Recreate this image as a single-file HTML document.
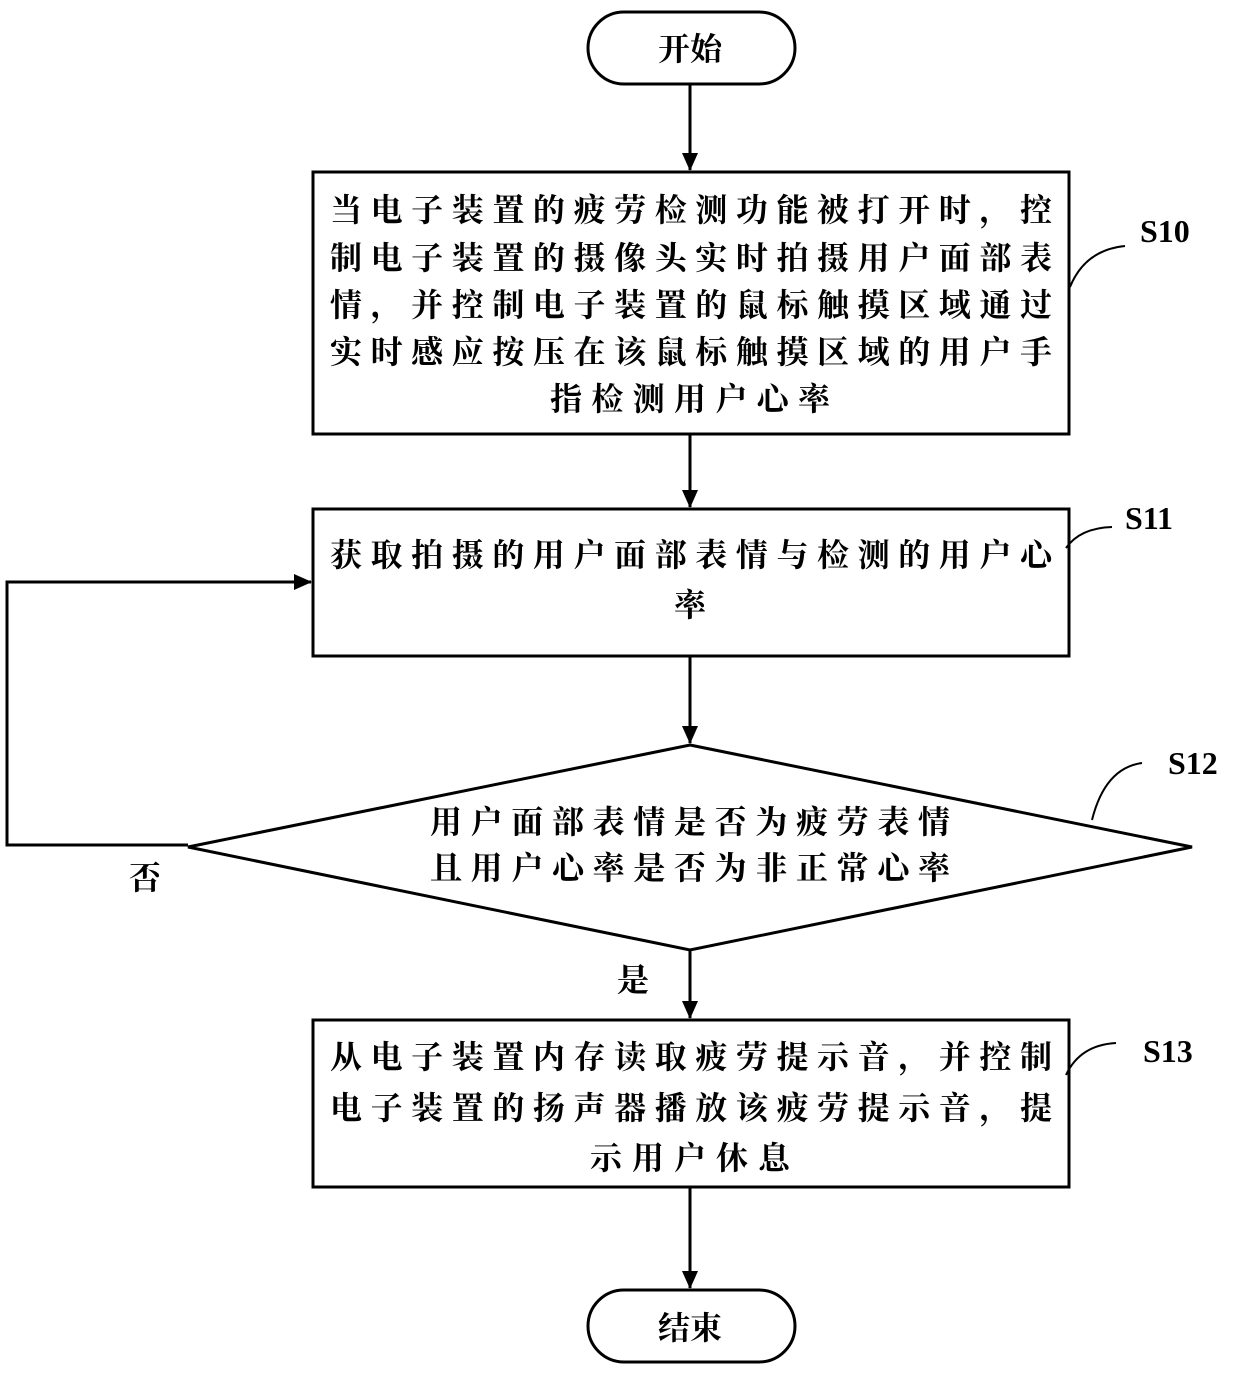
<!DOCTYPE html>
<html><head><meta charset="utf-8"><style>
body{margin:0;background:#fff}
svg{display:block}
text{font-family:"Liberation Serif","Noto Serif CJK SC",serif;font-weight:bold;font-size:32px;fill:#000}
.l{font-family:"Liberation Serif",serif;font-size:32px}
</style></head><body>
<svg width="1240" height="1382" viewBox="0 0 1240 1382">
<defs>
<marker id="b" markerWidth="18" markerHeight="16" refX="17" refY="8" orient="auto" markerUnits="userSpaceOnUse"><path d="M0,0 L18,8 L0,16 z" fill="#000"/></marker></defs>
<g stroke="#000" stroke-width="3" fill="none">
<rect x="588" y="12" width="207" height="72" rx="36"/>
<rect x="313" y="172" width="756" height="262"/>
<rect x="313" y="509" width="756" height="147"/>
<polygon points="690,745 1192,847 690,950 188,847"/>
<rect x="313" y="1020" width="756" height="167"/>
<rect x="588" y="1290" width="207" height="72" rx="36"/>
<line x1="690" y1="84" x2="690" y2="170" marker-end="url(#b)"/>
<line x1="690" y1="434" x2="690" y2="507" marker-end="url(#b)"/>
<line x1="690" y1="656" x2="690" y2="743" marker-end="url(#b)"/>
<line x1="690" y1="950" x2="690" y2="1018" marker-end="url(#b)"/>
<line x1="690" y1="1187" x2="690" y2="1288" marker-end="url(#b)"/>
<polyline points="188,845 7,845 7,582 311,582" marker-end="url(#b)"/>
<g stroke-width="2">
<path d="M1070,287 Q1085,250 1125,246"/>
<path d="M1066,548 Q1080,528 1112,527"/>
<path d="M1092,820 Q1105,768 1142,763"/>
<path d="M1066,1075 Q1080,1045 1116,1043"/>
</g>
</g>
<text x="690" y="60" text-anchor="middle">开始</text>
<text x="690" y="1339" text-anchor="middle">结束</text>
<text x="330" y="221" textLength="722" lengthAdjust="spacing">当电子装置的疲劳检测功能被打开时，控</text>
<text x="330" y="269" textLength="722" lengthAdjust="spacing">制电子装置的摄像头实时拍摄用户面部表</text>
<text x="330" y="316" textLength="722" lengthAdjust="spacing">情，并控制电子装置的鼠标触摸区域通过</text>
<text x="330" y="363" textLength="722" lengthAdjust="spacing">实时感应按压在该鼠标触摸区域的用户手</text>
<text x="550" y="410" textLength="280" lengthAdjust="spacing">指检测用户心率</text>
<text x="330" y="566" textLength="722" lengthAdjust="spacing">获取拍摄的用户面部表情与检测的用户心</text>
<text x="690" y="616" text-anchor="middle">率</text>
<text x="430" y="833" textLength="520" lengthAdjust="spacing">用户面部表情是否为疲劳表情</text>
<text x="430" y="879" textLength="520" lengthAdjust="spacing">且用户心率是否为非正常心率</text>
<text x="330" y="1068" textLength="722" lengthAdjust="spacing">从电子装置内存读取疲劳提示音，并控制</text>
<text x="330" y="1119" textLength="722" lengthAdjust="spacing">电子装置的扬声器播放该疲劳提示音，提</text>
<text x="590" y="1169" textLength="200" lengthAdjust="spacing">示用户休息</text>
<text x="145" y="889" text-anchor="middle">否</text>
<text x="633" y="991" text-anchor="middle">是</text>
<text class="l" x="1140" y="242">S10</text>
<text class="l" x="1125" y="529">S11</text>
<text class="l" x="1168" y="774">S12</text>
<text class="l" x="1143" y="1062">S13</text>
</svg>
</body></html>
